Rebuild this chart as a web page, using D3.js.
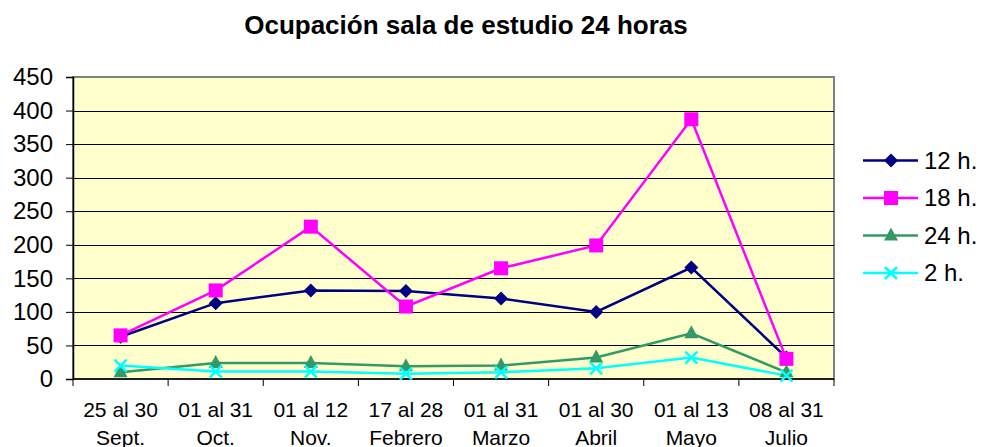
<!DOCTYPE html>
<html>
<head>
<meta charset="utf-8">
<script src="https://cdn.jsdelivr.net/npm/d3@7"></script>
<style>
  body { margin: 0; background: #fff; }
  svg { font-family: "Liberation Sans", Arial, sans-serif; }
</style>
</head>
<body>
<svg id="chart" width="981" height="447"></svg>
<script>
const categories = [
  ['25 al 30', 'Sept.'],
  ['01 al 31', 'Oct.'],
  ['01 al 12', 'Nov.'],
  ['17 al 28', 'Febrero'],
  ['01 al 31', 'Marzo'],
  ['01 al 30', 'Abril'],
  ['01 al 13', 'Mayo'],
  ['08 al 31', 'Julio']
];
const seriesNames = ['12 h.', '18 h.', '24 h.', '2 h.'];
const values12 = [63, 113, 132, 131, 120, 100, 166, 32];
const values18 = [65, 132, 227, 108, 165, 199, 387, 30];
const values24 = [10, 24, 24, 19, 20, 32, 68, 10];
const values2 = [20, 11, 11, 8, 10, 16, 32, 5];
const yTicks = [0, 50, 100, 150, 200, 250, 300, 350, 400, 450];

const series = [
  { name: seriesNames[0], values: values12, color: '#000080', symbol: 'diamond' },
  { name: seriesNames[1], values: values18, color: '#FF00FF', symbol: 'square' },
  { name: seriesNames[2], values: values24, color: '#339966', symbol: 'triangle' },
  { name: seriesNames[3], values: values2, color: '#00FFFF', symbol: 'cross' }
];

const plot = { left: 73, right: 834, top: 77, bottom: 379 };
const svg = d3.select('#chart');

const x = d3.scaleBand()
  .domain(d3.range(categories.length))
  .range([plot.left, plot.right]);
const y = d3.scaleLinear().domain([0, 450]).range([plot.bottom, plot.top]);

// title
svg.append('text')
  .attr('x', 466).attr('y', 34)
  .attr('text-anchor', 'middle')
  .attr('font-size', 26).attr('font-weight', 'bold')
  .text('Ocupación sala de estudio 24 horas');

// plot background + border
svg.append('rect')
  .attr('x', plot.left).attr('y', plot.top)
  .attr('width', plot.right - plot.left).attr('height', plot.bottom - plot.top)
  .attr('fill', '#FFFFCC').attr('stroke', '#808080').attr('stroke-width', 2);

// gridlines
svg.append('g')
  .selectAll('line')
  .data(yTicks.filter((d) => d > 0 && d < 450))
  .join('line')
  .attr('x1', plot.left).attr('x2', plot.right)
  .attr('y1', (d) => Math.round(y(d)) + 0.5).attr('y2', (d) => Math.round(y(d)) + 0.5)
  .attr('stroke', '#000').attr('stroke-width', 1);

// y axis
const yAxis = svg.append('g')
  .attr('transform', `translate(${plot.left},0)`)
  .call(d3.axisLeft(y).tickValues(yTicks).tickSize(7).tickPadding(13));
yAxis.select('.domain').attr('stroke', '#000').attr('stroke-width', 1.5);
yAxis.selectAll('text').attr('font-size', 24).attr('fill', '#000')
  .attr('font-family', '"Liberation Sans", Arial, sans-serif');

// x axis: ticks between categories
const xAxisG = svg.append('g').attr('transform', `translate(0,${plot.bottom})`);
xAxisG.append('line')
  .attr('x1', plot.left).attr('x2', plot.right)
  .attr('stroke', '#000').attr('stroke-width', 1.5);
xAxisG.selectAll('.tick')
  .data(d3.range(categories.length + 1))
  .join('line')
  .attr('x1', (i) => plot.left + i * x.bandwidth())
  .attr('x2', (i) => plot.left + i * x.bandwidth())
  .attr('y1', 0).attr('y2', 7)
  .attr('stroke', '#000');
const labels = xAxisG.selectAll('text.cat')
  .data(categories)
  .join('text')
  .attr('class', 'cat')
  .attr('text-anchor', 'middle')
  .attr('font-size', 21);
labels.append('tspan')
  .attr('x', (d, i) => x(i) + x.bandwidth() / 2).attr('y', 38)
  .text((d) => d[0]);
labels.append('tspan')
  .attr('x', (d, i) => x(i) + x.bandwidth() / 2).attr('y', 66)
  .text((d) => d[1]);

const cx = (i) => x(i) + x.bandwidth() / 2;
const line = d3.line().x((d, i) => cx(i)).y((d) => y(d));

function drawMarker(g, s, px, py) {
  if (s.symbol === 'diamond') {
    g.append('path')
      .attr('d', `M${px},${py - 7}L${px + 7},${py}L${px},${py + 7}L${px - 7},${py}Z`)
      .attr('fill', s.color);
  } else if (s.symbol === 'square') {
    g.append('rect')
      .attr('x', px - 7).attr('y', py - 7).attr('width', 14).attr('height', 14)
      .attr('fill', s.color);
  } else if (s.symbol === 'triangle') {
    g.append('path')
      .attr('d', `M${px},${py - 8}L${px + 7},${py + 5}L${px - 7},${py + 5}Z`)
      .attr('fill', s.color);
  } else {
    g.append('path')
      .attr('d', `M${px - 6},${py - 6}L${px + 6},${py + 6}M${px + 6},${py - 6}L${px - 6},${py + 6}`)
      .attr('stroke', s.color).attr('stroke-width', 2.5).attr('fill', 'none');
  }
}

const linesG = svg.append('g');
series.forEach((s) => {
  linesG.append('path')
    .datum(s.values)
    .attr('d', line)
    .attr('fill', 'none')
    .attr('stroke', s.color)
    .attr('stroke-width', 2.5);
});
series.forEach((s) => {
  const g = linesG.append('g');
  s.values.forEach((v, i) => drawMarker(g, s, cx(i), y(v)));
});

// legend
const legend = svg.append('g');
series.forEach((s, i) => {
  const ly = 160.5 + i * 37.5;
  const g = legend.append('g');
  g.append('line')
    .attr('x1', 863).attr('x2', 918).attr('y1', ly).attr('y2', ly)
    .attr('stroke', s.color).attr('stroke-width', 2.5);
  drawMarker(g, s, 891, ly);
  g.append('text')
    .attr('x', 924).attr('y', ly + 8)
    .attr('font-size', 24)
    .text(s.name);
});
</script>
</body>
</html>
